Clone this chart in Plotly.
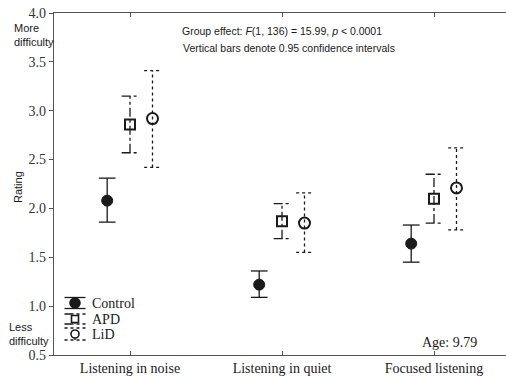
import plotly.graph_objects as go

categories = ["Listening in noise", "Listening in quiet", "Focused listening"]
groups = ["Control", "APD", "LiD"]
means = {
    "Control": [2.08, 1.22, 1.64],
    "APD": [2.86, 1.87, 2.10],
    "LiD": [2.92, 1.85, 2.21],
}
ci_low = {
    "Control": [1.86, 1.09, 1.45],
    "APD": [2.57, 1.69, 1.85],
    "LiD": [2.42, 1.55, 1.78],
}
ci_high = {
    "Control": [2.31, 1.36, 1.83],
    "APD": [3.15, 2.05, 2.35],
    "LiD": [3.41, 2.16, 2.62],
}
y_ticks = [0.5, 1.0, 1.5, 2.0, 2.5, 3.0, 3.5, 4.0]

# ---- styles / layout constants ----
W, H = 506, 379
L, R, T, B = 54, 0, 13, 24
PW, PH = W - L - R, H - T - B
offsets = {"Control": -0.15, "APD": 0.0, "LiD": 0.148}
dashes = {"Control": "solid", "APD": "dashdot", "LiD": "dot"}
ink = "#1a1a1a"
markers = {
    "Control": dict(symbol="circle", size=11, color=ink, line=dict(color=ink, width=1)),
    "APD": dict(symbol="square-open", size=10, color=ink, line=dict(color=ink, width=2)),
    "LiD": dict(symbol="circle-open", size=11, color=ink, line=dict(color=ink, width=2)),
}
cap = 0.055
serif = "Liberation Serif, Times New Roman, serif"
sans = "Liberation Sans, Arial, sans-serif"


def px2paper(px, py):
    return (px - L) / PW, 1 - (py - T) / PH


fig = go.Figure()
for g in groups:
    xs, ys = [], []
    for i in range(len(categories)):
        x = i + offsets[g]
        lo, hi = ci_low[g][i], ci_high[g][i]
        xs += [x, x, None, x - cap, x + cap, None, x - cap, x + cap, None]
        ys += [lo, hi, None, lo, lo, None, hi, hi, None]
    fig.add_trace(go.Scatter(x=xs, y=ys, mode="lines", showlegend=False,
                             line=dict(color=ink, width=1.3, dash=dashes[g]),
                             hoverinfo="skip"))
for g in groups:
    fig.add_trace(go.Scatter(x=[i + offsets[g] for i in range(len(categories))],
                             y=means[g], mode="markers", name=g, showlegend=False,
                             marker=markers[g]))

fig.update_layout(
    width=W, height=H,
    margin=dict(l=L, r=R, t=T, b=B),
    paper_bgcolor="white", plot_bgcolor="white",
    showlegend=False,
    font=dict(family=serif, color=ink),
)
fig.update_xaxes(range=[-0.5, -0.5 + PW / 152], tickvals=[0, 1, 2], ticktext=categories,
                 showline=True, linecolor="#555", linewidth=1.2, mirror="ticks",
                 ticks="inside", ticklen=4, tickcolor="#555", showgrid=False,
                 zeroline=False, tickfont=dict(family=serif, size=14, color=ink))
fig.update_yaxes(range=[0.5, 4.0], tickvals=y_ticks,
                 ticktext=[f"{v:.1f}" for v in y_ticks],
                 showline=True, linecolor="#555", linewidth=1.2,
                 ticks="outside", ticklen=4, tickcolor="#555", showgrid=False,
                 zeroline=False, tickfont=dict(family=serif, size=14, color="#333"))

anns = [
    dict(x=180, y=31, text="Group effect: <i>F</i>(1, 136) = 15.99, <i>p</i> &lt; 0.0001",
         xanchor="left", font=dict(family=sans, size=10.5)),
    dict(x=181, y=48, text="Vertical bars denote 0.95 confidence intervals",
         xanchor="left", font=dict(family=sans, size=10.5)),
    dict(x=12, y=35, text="More<br>difficulty", xanchor="left", align="left",
         font=dict(family=sans, size=11)),
    dict(x=7, y=334, text="Less<br>difficulty", xanchor="left", align="left",
         font=dict(family=sans, size=11)),
    dict(x=18, y=187, text="Rating", textangle=-90, font=dict(family=sans, size=11)),
    dict(x=479, y=342, text="Age: 9.79", xanchor="right",
         font=dict(family=serif, size=14)),
]
# legend texts
legend_rows = {"Control": 303, "APD": 319, "LiD": 334}
for g in groups:
    anns.append(dict(x=90, y=legend_rows[g], text=g, xanchor="left",
                     font=dict(family=serif, size=14)))

for a in anns:
    xp, yp = px2paper(a["x"], a["y"])
    fig.add_annotation(x=xp, y=yp, xref="paper", yref="paper",
                       text=a["text"], showarrow=False,
                       xanchor=a.get("xanchor", "center"), yanchor="middle",
                       align=a.get("align", "center"), textangle=a.get("textangle", 0),
                       font=dict(color=ink, **a["font"]))

# legend glyphs (mini error bar + symbol)
glyph = {
    "Control": dict(cy=303, half=5.5, sym="circle", r=5, fill=ink),
    "APD": dict(cy=319, half=5, sym="square", r=3.5, fill="white"),
    "LiD": dict(cy=334, half=6, sym="circle", r=4, fill="white"),
}
gx = 75
for g in groups:
    d = glyph[g]
    ax, ay = px2paper(gx, d["cy"])
    common = dict(xref="paper", yref="paper", xsizemode="pixel", ysizemode="pixel",
                  xanchor=ax, yanchor=ay)
    ln = dict(color=ink, width=1.3, dash=dashes[g])
    for dy in (-d["half"], d["half"]):
        fig.add_shape(type="line", x0=-10.5, x1=10.5, y0=dy, y1=dy, line=ln, **common)
    fig.add_shape(type="line", x0=0, x1=0, y0=-d["half"], y1=d["half"], line=ln, **common)
    r = d["r"]
    fig.add_shape(type="circle" if d["sym"] == "circle" else "rect",
                  x0=-r, x1=r, y0=-r, y1=r, fillcolor=d["fill"],
                  line=dict(color=ink, width=1.6), **common)

fig.write_html("out.html", config={"displayModeBar": False},
               post_script="document.body.style.margin='0';")
